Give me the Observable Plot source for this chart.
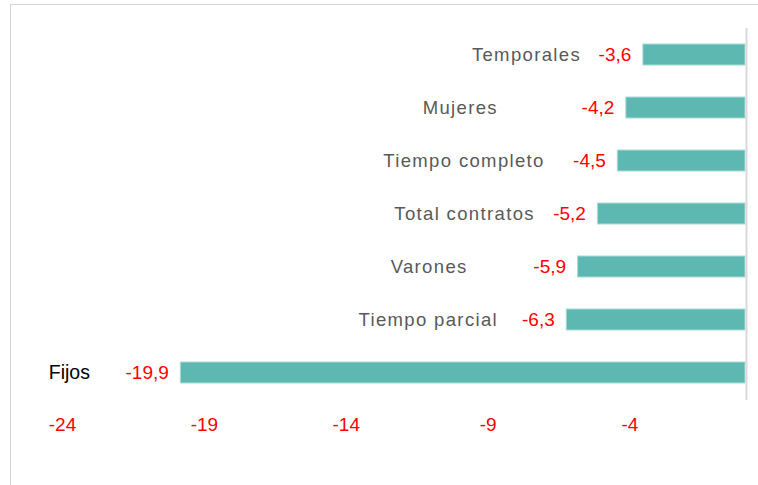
<!DOCTYPE html>
<html>
<head>
<meta charset="utf-8">
<script src="https://cdn.jsdelivr.net/npm/d3@7"></script>
<script src="https://cdn.jsdelivr.net/npm/@observablehq/plot@0.6"></script>
<style>
  html, body { margin: 0; padding: 0; background: #fff; }
  #wrap { position: relative; width: 758px; height: 485px; overflow: hidden; }
  #wrap svg { position: absolute; left: 0; top: 0; }
  #wrap g[fill="#595959"] text { letter-spacing: 1.35px; }
  #frame { position: absolute; left: 10px; top: 4px; width: 760px; height: 490px;
           border-left: 1.5px solid #d4d4d4; border-top: 1.5px solid #d4d4d4; pointer-events: none; }
</style>
</head>
<body>
<div id="wrap"><div id="frame"></div></div>
<script>
// Data
const categories = ["Temporales", "Mujeres", "Tiempo completo", "Total contratos", "Varones", "Tiempo parcial", "Fijos"];
const values = [-3.6, -4.2, -4.5, -5.2, -5.9, -6.3, -19.9];
const valueLabels = ["-3,6", "-4,2", "-4,5", "-5,2", "-5,9", "-6,3", "-19,9"];
// where each category label is centred, in axis units (as placed in the original)
const labelAt = [-7.72, -10.05, -9.92, -9.9, -11.15, -11.18, -23.83];
const xTicks = [-24, -19, -14, -9, -4];

const rows = categories.map((c, i) => ({cat: c, value: values[i], label: valueLabels[i], at: labelAt[i]}));
const grayRows = rows.filter(d => d.cat !== "Fijos");
const blackRows = rows.filter(d => d.cat === "Fijos");

const font = "'Liberation Sans', Arial, sans-serif";

const chart = Plot.plot({
  width: 758,
  height: 485,
  marginLeft: 64,
  marginRight: 13,
  marginTop: 12,
  marginBottom: 70,
  style: {fontFamily: font, background: "transparent", overflow: "visible"},
  x: {domain: [-24, 0], ticks: xTicks, axis: null},
  y: {domain: categories, padding: 0.6, axis: null},
  marks: [
    Plot.axisX({
      ticks: xTicks,
      tickSize: 0,
      tickPadding: 2,
      fontSize: 19,
      color: "#ff0000",
      dx: -2,
      tickFormat: d => String(d).replace("−", "-")
    }),
    Plot.barX(rows, {x1: 0, x2: "value", y: "cat", fill: "#5eb8b2", stroke: "#a9dbd7", strokeWidth: 1}),
    Plot.ruleX([0], {stroke: "#d9d9d9", strokeWidth: 2, insetTop: 16, insetBottom: 15, dx: 1}),
    Plot.text(rows, {x: "value", y: "cat", text: "label", textAnchor: "end", dx: -12, fill: "#ff0000", fontSize: 19}),
    Plot.text(grayRows, {x: "at", y: "cat", text: "cat", textAnchor: "middle", fill: "#595959", fontSize: 18.5}),
    Plot.text(blackRows, {x: "at", y: "cat", text: "cat", textAnchor: "middle", fill: "#000000", fontSize: 19.5})
  ]
});
document.getElementById("wrap").prepend(chart);
</script>
</body>
</html>
